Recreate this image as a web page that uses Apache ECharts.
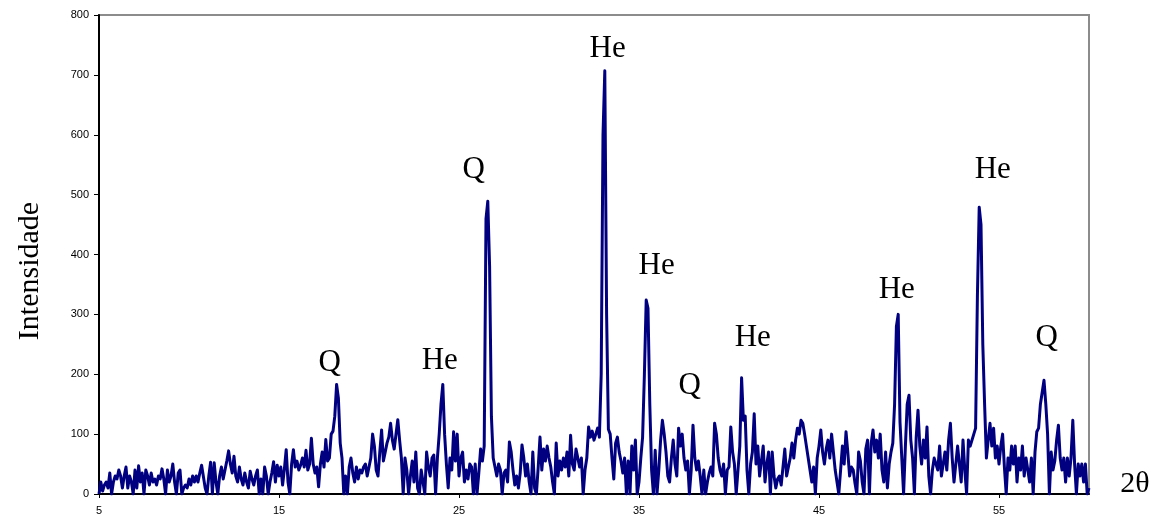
<!DOCTYPE html>
<html>
<head>
<meta charset="utf-8">
<script src="https://cdn.jsdelivr.net/npm/echarts@6/dist/echarts.min.js"></script>
<style>
  html, body { margin: 0; padding: 0; background: #ffffff; }
  #chart { width: 1162px; height: 519px; }
</style>
</head>
<body>
<div id="chart"></div>
<script>
// X-ray diffraction scan: 2θ from 5° to 60° in 0.1° steps
const scanStart = 5.0;
const scanStep = 0.1;

// Measured intensity, one row per degree (x.0 … x.9)
const intensity = [
  0, 20, 5, 15, 20, 10, 35, 0, 20, 30,          // 5
  25, 40, 30, 10, 30, 45, 10, 30, 20, 0,        // 6
  40, 10, 47, 20, 35, 0, 40, 30, 15, 35,        // 7
  20, 25, 15, 30, 25, 42, 25, 0, 40, 20,        // 8
  30, 50, 20, 0, 35, 40, 0, 10, 15, 10,         // 9
  25, 15, 30, 20, 30, 20, 35, 48, 50, 10,       // 10
  0, 30, 53, 0, 52, 20, 0, 30, 45, 25,          // 11
  40, 55, 72, 50, 35, 63, 30, 20, 45, 25,       // 12
  15, 35, 20, 10, 38, 25, 15, 30, 40, 0,        // 13
  25, 0, 45, 30, 0, 20, 35, 54, 20, 48,         // 14
  30, 45, 15, 42, 74, 20, 0, 50, 74, 45,        // 15
  55, 40, 48, 60, 45, 73, 40, 50, 93, 50,       // 16
  35, 45, 12, 50, 70, 45, 91, 55, 60, 100,      // 17
  105, 130, 183, 160, 85, 60, 0, 30, 0, 45,     // 18
  60, 35, 20, 45, 25, 40, 35, 45, 50, 30,       // 19
  45, 60, 100, 80, 40, 30, 70, 107, 55, 70,     // 20
  85, 95, 118, 90, 75, 100, 124, 90, 60, 0,     // 21
  60, 40, 0, 30, 55, 20, 70, 10, 0, 40,         // 22
  20, 0, 70, 45, 30, 60, 65, 0, 60, 100,        // 23
  150, 183, 100, 50, 10, 60, 40, 104, 55, 100,  // 24
  30, 60, 70, 20, 40, 25, 50, 45, 0, 50,        // 25
  0, 35, 75, 55, 80, 460, 489, 380, 130, 60,    // 26
  45, 30, 50, 40, 0, 35, 40, 20, 87, 70,        // 27
  40, 15, 30, 10, 35, 82, 60, 30, 50, 20,       // 28
  0, 70, 10, 0, 45, 95, 40, 75, 55, 80,         // 29
  60, 45, 20, 0, 85, 30, 55, 40, 60, 45,        // 30
  70, 30, 98, 50, 40, 75, 60, 45, 60, 0,        // 31
  40, 60, 112, 95, 105, 90, 100, 110, 95, 200,  // 32
  600, 707, 300, 108, 100, 60, 25, 85, 95, 70,  // 33
  55, 35, 60, 0, 55, 0, 80, 40, 90, 0,          // 34
  20, 60, 95, 200, 324, 310, 150, 40, 0, 73,    // 35
  0, 40, 90, 123, 100, 70, 30, 20, 60, 90,      // 36
  50, 30, 110, 80, 100, 60, 40, 55, 0, 40,      // 37
  115, 60, 40, 55, 30, 0, 40, 0, 20, 35,        // 38
  45, 30, 118, 100, 60, 40, 30, 50, 0, 40,      // 39
  45, 112, 70, 50, 0, 40, 80, 194, 123, 130,    // 40
  40, 0, 50, 70, 134, 50, 80, 30, 55, 80,       // 41
  20, 50, 70, 0, 70, 30, 10, 25, 30, 15,        // 42
  15, 75, 30, 45, 60, 85, 60, 90, 110, 100,     // 43
  123, 118, 100, 80, 60, 40, 20, 45, 0, 60,     // 44
  80, 107, 70, 50, 75, 90, 60, 100, 70, 40,     // 45
  40, 0, 40, 80, 50, 104, 70, 30, 45, 40,       // 46
  18, 0, 70, 55, 20, 0, 75, 90, 0, 85,          // 47
  107, 70, 90, 60, 100, 40, 20, 70, 10, 50,     // 48
  70, 85, 150, 280, 300, 120, 120, 0, 80, 150,  // 49
  165, 90, 60, 0, 95, 140, 80, 50, 90, 60,      // 50
  112, 30, 0, 40, 60, 60, 40, 80, 30, 50,       // 51
  70, 40, 90, 118, 60, 20, 50, 80, 50, 20,      // 52
  90, 40, 0, 90, 80, 90, 100, 110, 330, 479,    // 53
  450, 250, 150, 60, 90, 118, 80, 110, 60, 80,  // 54
  50, 80, 100, 45, 0, 60, 40, 80, 50, 80,       // 55
  20, 60, 40, 80, 30, 60, 40, 20, 60, 0,        // 56
  70, 104, 110, 150, 170, 190, 150, 100, 0, 70, // 57
  40, 55, 90, 115, 60, 40, 60, 20, 60, 30,      // 58
  60, 123, 50, 0, 50, 30, 50, 20, 50, 0,        // 59
  10                                            // 60
];

// Axis tick labels
const xTicks = [5, 15, 25, 35, 45, 55];
const yTicks = [0, 100, 200, 300, 400, 500, 600, 700, 800];

// Phase identification marks: Q = quartz, He = hematite
const phaseNames = ['Q', 'He', 'Q', 'He', 'He', 'Q', 'He', 'He', 'He', 'Q'];
const phaseAt2Theta = [17.82, 23.93, 25.82, 33.26, 35.98, 37.82, 41.32, 49.32, 54.65, 57.65];
const phaseAtIntensity = [219, 222, 541, 743, 381, 180, 260, 341, 541, 260];

const scan = intensity.map((v, i) => [+(scanStart + i * scanStep).toFixed(1), v]);
const phaseMarks = phaseNames.map((n, i) => ({ value: [phaseAt2Theta[i], phaseAtIntensity[i]], name: n }));

const serif = '"Liberation Serif", "Times New Roman", serif';
const sans = '"Liberation Sans", Arial, sans-serif';

const chart = echarts.init(document.getElementById('chart'), null, { renderer: 'canvas' });
chart.setOption({
  animation: false,
  backgroundColor: '#ffffff',
  grid: {
    left: 99, right: 73, top: 15, bottom: 25,
    show: true, borderColor: '#8c8c8c', borderWidth: 2, backgroundColor: 'transparent'
  },
  xAxis: {
    type: 'value', min: 5, max: 60,
    axisLine: { show: true, onZero: false, lineStyle: { color: '#000', width: 2 } },
    axisTick: { show: true, length: 4, lineStyle: { color: '#000', width: 1 }, customValues: xTicks },
    axisLabel: { color: '#000', fontFamily: sans, fontSize: 11, margin: 11, customValues: xTicks },
    splitLine: { show: false }
  },
  yAxis: {
    type: 'value', min: 0, max: 800, interval: 100,
    axisLine: { show: true, lineStyle: { color: '#000', width: 2 } },
    axisTick: { show: true, length: 5, lineStyle: { color: '#000', width: 1 }, customValues: yTicks },
    axisLabel: { color: '#000', fontFamily: sans, fontSize: 11, margin: 10, customValues: yTicks },
    splitLine: { show: false }
  },
  series: [
    {
      type: 'line',
      data: scan,
      showSymbol: false,
      lineStyle: { color: '#000080', width: 3, join: 'round' },
      z: 3
    },
    {
      type: 'scatter',
      data: phaseMarks,
      symbolSize: 0,
      silent: true,
      itemStyle: { opacity: 1 },
      label: {
        show: true, position: 'inside',
        formatter: p => p.name,
        color: '#000', fontFamily: serif, fontSize: 31
      },
      z: 4
    }
  ],
  graphic: [
    {
      type: 'text', x: 30, y: 271, rotation: Math.PI / 2,
      style: { text: 'Intensidade', fill: '#000', font: '30px ' + serif, textAlign: 'center', textVerticalAlign: 'middle' }
    },
    {
      type: 'text', x: 1135, y: 484,
      style: { text: '2θ', fill: '#000', font: '30px ' + serif, textAlign: 'center', textVerticalAlign: 'middle' }
    }
  ]
});
</script>
</body>
</html>
